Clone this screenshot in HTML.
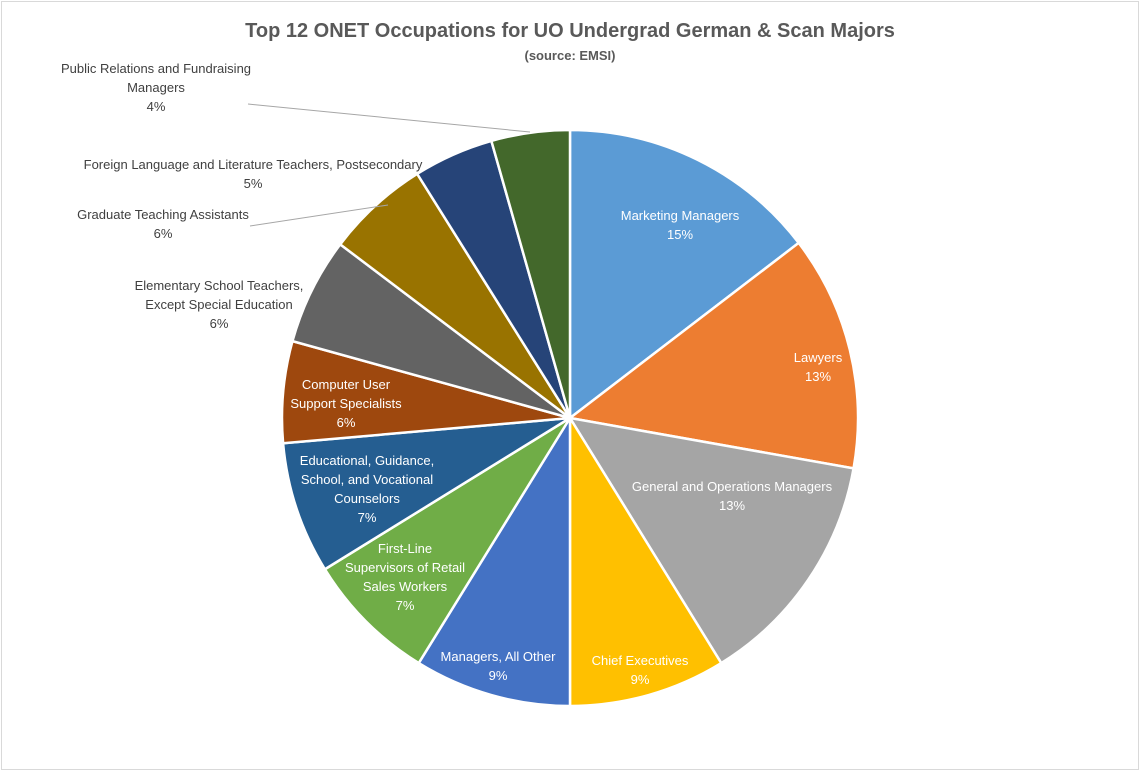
<!DOCTYPE html>
<html><head><meta charset="utf-8">
<style>
body{margin:0;background:#fff;}
#wrap{position:relative;width:1140px;height:771px;overflow:hidden;font-family:"Liberation Sans",sans-serif;}
#frame{position:absolute;left:1px;top:1px;width:1136px;height:767px;border:1px solid #d9d9d9;}
svg{position:absolute;left:0;top:0;}
</style></head>
<body>
<div id="wrap">
<div id="frame"></div>
<svg id="svg" width="1140" height="771">
<text x="570" y="37" text-anchor="middle" font-size="20" font-weight="bold" fill="#595959">Top 12 ONET Occupations for UO Undergrad German &amp; Scan Majors</text>
<text x="570" y="60" text-anchor="middle" font-size="13" font-weight="bold" fill="#595959">(source: EMSI)</text>
<g id="slices"></g>
<g id="labels"></g>
</svg>
</div>
<script>
const categories=["Marketing Managers","Lawyers","General and Operations Managers","Chief Executives","Managers, All Other","First-Line Supervisors of Retail Sales Workers","Educational, Guidance, School, and Vocational Counselors","Computer User Support Specialists","Elementary School Teachers, Except Special Education","Graduate Teaching Assistants","Foreign Language and Literature Teachers, Postsecondary","Public Relations and Fundraising Managers"];
const values=[14.6,13.2,13.4,8.8,8.8,7.4,7.4,5.7,6.0,5.8,4.5,4.4];
const pctLabels=["15%","13%","13%","9%","9%","7%","7%","6%","6%","6%","5%","4%"];
const colors=["#5B9BD5","#ED7D31","#A5A5A5","#FFC000","#4472C4","#70AD47","#255E91","#9E480E","#636363","#997300","#264478","#43682B"];
// label layout: [x, y, lines, color, leader]
const layout=[
 [680,220,["Marketing Managers"],"#fff"],
 [818,362,["Lawyers"],"#fff"],
 [732,491,["General and Operations Managers"],"#fff"],
 [640,665,["Chief Executives"],"#fff"],
 [498,661,["Managers, All Other"],"#fff"],
 [405,553,["First-Line","Supervisors of Retail","Sales Workers"],"#fff"],
 [367,465,["Educational, Guidance,","School, and Vocational","Counselors"],"#fff"],
 [346,389,["Computer User","Support Specialists"],"#fff"],
 [219,290,["Elementary School Teachers,","Except Special Education"],"#404040"],
 [163,219,["Graduate Teaching Assistants"],"#404040",[[250,226],[388,205]]],
 [253,169,["Foreign Language and Literature Teachers, Postsecondary"],"#404040"],
 [156,73,["Public Relations and Fundraising","Managers"],"#404040",[[248,104],[530,132]]]
];
const cx=570,cy=418,r=288;
const NS="http://www.w3.org/2000/svg";
const total=values.reduce((a,b)=>a+b,0);
function angleOf(v){return v/total*2*Math.PI;}
function pt(a,rad){return [cx+rad*Math.sin(a),cy-rad*Math.cos(a)];}
const gs=document.getElementById('slices'),gl=document.getElementById('labels');
let a0=0;
values.forEach((v,i)=>{
 const a1=a0+angleOf(v);
 const p0=pt(a0,r),p1=pt(a1,r);
 const large=(a1-a0)>Math.PI?1:0;
 const p=document.createElementNS(NS,'path');
 p.setAttribute('d',`M${cx},${cy}L${p0[0]},${p0[1]}A${r},${r} 0 ${large} 1 ${p1[0]},${p1[1]}Z`);
 p.setAttribute('fill',colors[i]);p.setAttribute('stroke','#fff');p.setAttribute('stroke-width','2.5');
 
 
 gs.appendChild(p);
 a0=a1;
});
layout.forEach((L,i)=>{
 const [x,y,lines,col,leader]=L;
 if(leader){
  const ln=document.createElementNS(NS,'polyline');
  ln.setAttribute('points',leader.map(q=>q.join(',')).join(' '));
  ln.setAttribute('fill','none');ln.setAttribute('stroke','#a6a6a6');ln.setAttribute('stroke-width','1');
  
  
  gl.appendChild(ln);
 }
 const t=document.createElementNS(NS,'text');
 t.setAttribute('text-anchor','middle');t.setAttribute('font-size','13');t.setAttribute('fill',col);
 
 
 lines.concat([pctLabels[i]]).forEach((s,k)=>{
  const ts=document.createElementNS(NS,'tspan');
  ts.setAttribute('x',x);ts.setAttribute('y',y+k*19);ts.textContent=s;t.appendChild(ts);
 });
 gl.appendChild(t);
});
</script>
</body></html>
